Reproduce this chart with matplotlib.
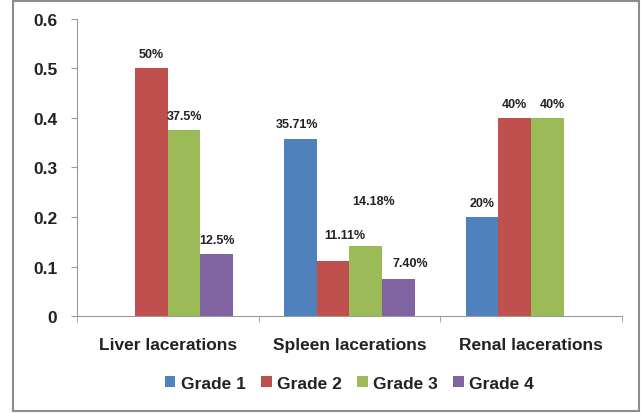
import matplotlib
matplotlib.use("Agg")
import matplotlib.pyplot as plt
from matplotlib.patches import Rectangle
import numpy

## data
CATEGORIES = ["Liver lacerations", "Spleen lacerations", "Renal lacerations"]
GRADES = ["Grade 1", "Grade 2", "Grade 3", "Grade 4"]
GRADE_1 = [0.0, 0.3571, 0.20]
GRADE_2 = [0.50, 0.1111, 0.40]
GRADE_3 = [0.375, 0.1418, 0.40]
GRADE_4 = [0.125, 0.074, 0.0]
LABELS_1 = [None, "35.71%", "20%"]
LABELS_2 = ["50%", "11.11%", "40%"]
LABELS_3 = ["37.5%", "14.18%", "40%"]
LABELS_4 = ["12.5%", "7.40%", None]
Y_TICKS = [0, 0.1, 0.2, 0.3, 0.4, 0.5, 0.6]
Y_TICK_LABELS = ["0", "0.1", "0.2", "0.3", "0.4", "0.5", "0.6"]

## styling
COLORS = ["#4F81BD", "#C0504D", "#9BBB59", "#8064A2"]
BAR_WIDTH = 0.18
# label offsets in pixels (dx, dy) relative to the top centre of each bar
LABEL_OFFSETS = {
    (1, 0): (-3, 9),
    (1, 1): (12, 20),
    (1, 2): (8, 39),
    (1, 3): (12, 10),
    (2, 2): (5, 8),
}
DEFAULT_OFFSET = (0, 8)

plt.rcParams["font.family"] = ["Liberation Sans", "DejaVu Sans"]
plt.rcParams["font.weight"] = "bold"


def main() -> None:
    series = [GRADE_1, GRADE_2, GRADE_3, GRADE_4]
    labels = [LABELS_1, LABELS_2, LABELS_3, LABELS_4]
    fig = plt.figure(figsize=(6.41, 4.14), dpi=100)
    ax = fig.add_axes([0.120, 0.234, 0.850, 0.718])
    x = numpy.arange(len(CATEGORIES))
    for g, (vals, color, name) in enumerate(zip(series, COLORS, GRADES)):
        pos = x + (g - 1.5) * BAR_WIDTH
        ax.bar(pos, vals, width=BAR_WIDTH, color=color, label=name, zorder=2)
        for c, (px, v, lab) in enumerate(zip(pos, vals, labels[g])):
            if lab is None:
                continue
            dx, dy = LABEL_OFFSETS.get((c, g), DEFAULT_OFFSET)
            ax.annotate(
                lab,
                xy=(px, v),
                xytext=(dx, dy),
                textcoords="offset pixels",
                ha="center",
                va="bottom",
                fontsize=9,
                fontweight="bold",
                color="#222222",
            )
    ax.set_xlim(-0.5, len(CATEGORIES) - 0.5)
    ax.set_ylim(0, 0.6)
    ax.set_yticks(Y_TICKS)
    ax.set_yticklabels(Y_TICK_LABELS, fontsize=12.5, fontweight="bold", color="#222222")
    ax.set_xticks(x)
    ax.set_xticklabels(CATEGORIES, fontsize=12.5, fontweight="bold", color="#222222")
    ax.set_xticks(numpy.arange(len(CATEGORIES) + 1) - 0.5, minor=True)
    ax.tick_params(axis="x", which="major", length=0, pad=15)
    ax.tick_params(axis="x", which="minor", length=4, color="#9a9a9a", direction="out")
    ax.tick_params(axis="y", length=4, color="#9a9a9a", pad=10)
    for side in ["top", "right"]:
        ax.spines[side].set_visible(False)
    for side in ["left", "bottom"]:
        ax.spines[side].set_color("#9a9a9a")
    leg = ax.legend(
        loc="center",
        bbox_to_anchor=(0.5, -0.225),
        ncol=4,
        frameon=False,
        fontsize=12.5,
        handlelength=0.6,
        handleheight=0.6,
        handletextpad=0.3,
        columnspacing=0.9,
    )
    for t in leg.get_texts():
        t.set_fontweight("bold")
        t.set_color("#222222")
    fig.patches.append(
        Rectangle(
            (13 / 641, 2 / 414),
            626 / 641,
            410 / 414,
            transform=fig.transFigure,
            fill=False,
            edgecolor="#8c8c8c",
            linewidth=1.5,
        )
    )
    fig.savefig("out.png", dpi=100)


if __name__ == "__main__":
    main()
